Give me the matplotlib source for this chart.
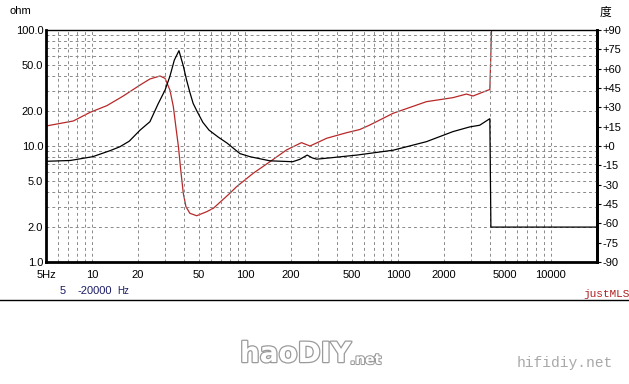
import numpy as np
import matplotlib
matplotlib.use("Agg")
from matplotlib import pyplot as plt
import matplotlib.patheffects as pe

# impedance curve (ohm)
imp_freq = [5, 7.2, 10.1, 13.1, 15.2, 17.5, 20.6, 23.9, 27, 30, 32.3, 34.5, 37.0,
            39.5, 41.5, 43.6, 45.8, 48.5, 53, 58.2, 67, 76.3, 92.6, 107.7, 145.5,
            205, 228, 255, 275, 294, 359, 538, 930, 1535, 2285, 2940, 3420, 3985,
            4050, 20000]
imp_ohm = [7.38, 7.5, 8.09, 9.11, 9.85, 11.0, 13.7, 16.2, 23, 30.3, 40, 55, 66.3,
           49, 37, 29, 23.3, 20.0, 16, 13.7, 11.9, 10.6, 8.6, 8.09, 7.45,
           7.32, 7.67, 8.35, 7.9, 7.7, 7.9, 8.35, 9.2, 10.9, 13.3, 14.6, 15.1, 17.2,
           2.0, 2.0]

# phase curve (degrees)
ph_freq = [5, 7.54, 9.7, 12.5, 16.0, 20.6, 23.9, 27.8, 30.0, 32.3, 34.0, 35.3, 36.7,
           38.0, 39.5, 41.1, 43.6, 48.3, 56.1, 62.1, 79.6, 88, 113, 145.5, 186.5,
           234, 266, 342, 461, 563, 655, 930, 1535, 2285, 2800, 3095, 3890, 3985, 4100]
ph_deg = [15.5, 19.4, 26.1, 31.3, 38.8, 47.3, 52, 54.3, 52.5, 43.4, 30.5, 15, -0.5,
          -18.6, -36.7, -47.1, -52.2, -54.1, -51, -48.3, -36.7, -31.6, -21.2, -12.2, -3.1,
          2.6, 0, 6, 10.3, 12.8, 16.3, 25.4, 34.4, 37.5, 40.3, 38.8, 43.4, 43.8, 95]

x_labels = {5: "5Hz", 10: "10", 20: "20", 50: "50", 100: "100", 200: "200",
            500: "500", 1000: "1000", 2000: "2000", 5000: "5000", 10000: "10000"}
y_labels = {1: "1.0", 2: "2.0", 5: "5.0", 10: "10.0", 20: "20.0", 50: "50.0", 100: "100.0"}
ph_ticks = list(range(-90, 91, 15))

fnt = "Liberation Sans"
fig = plt.figure(figsize=(6.29, 3.84), dpi=100)
ax = fig.add_axes([46 / 629, 1 - 262 / 384, 551 / 629, 232 / 384])
ax.set_xscale("log")
ax.set_yscale("log")
ax.set_xlim(5, 20000)
ax.set_ylim(1, 100)

xgrid = [m * 10 ** d for d in range(0, 5) for m in range(1, 10)]
xgrid = [v for v in xgrid if 5 <= v <= 20000]
ygrid = [m * 10 ** d for d in range(0, 2) for m in range(1, 10)] + [100]
ax.set_xticks(xgrid)
ax.set_xticklabels([x_labels.get(v, "") for v in xgrid], family=fnt, fontsize=8)
ax.set_yticks(ygrid)
ax.set_yticklabels([y_labels.get(v, "") for v in ygrid], family=fnt, fontsize=8)
ax.minorticks_off()
ax.tick_params(axis="x", length=0, pad=6)
ax.tick_params(axis="y", length=0, pad=2)
ax.grid(True, which="major", color="#8a8a8a", linestyle=(0, (3, 3)), linewidth=0.7)
for s in ["left", "bottom", "right"]:
    ax.spines[s].set_linewidth(2)
ax.spines["top"].set_linewidth(1)

ax2 = ax.twinx()
ax2.set_ylim(-90, 90)
ax2.set_yticks(ph_ticks)
ax2.set_yticklabels([("+%d" % v if v >= 0 else "%d" % v) for v in ph_ticks], family=fnt, fontsize=8)
ax2.tick_params(axis="y", length=3, width=0.8, pad=1)
ax2.spines["right"].set_linewidth(2)
for s in ["left", "bottom", "top"]:
    ax2.spines[s].set_visible(False)

ax2.plot(ph_freq, ph_deg, color="#b82828", linewidth=0.9, clip_on=True)
ax.plot(imp_freq, imp_ohm, color="black", linewidth=0.9, zorder=5)
ax.set_zorder(ax2.get_zorder() + 1)
ax.patch.set_visible(False)

# header / footer texts
fig.text(10 / 629, 1 - 11 / 384, "ohm", family=fnt, fontsize=8, va="center")
fig.text(600 / 629, 1 - 12 / 384, "度", family=["Noto Sans CJK SC", "DejaVu Sans"],
         fontsize=8.5, va="center")
navy = "#1c1c64"
fig.text(60 / 629, 1 - 291 / 384, "5", family=fnt, fontsize=8, color=navy, va="center")
fig.text(77 / 629, 1 - 291 / 384, "-20000", family=fnt, fontsize=8, color=navy, va="center")
fig.text(117 / 629, 1 - 291 / 384, "Hz", family=fnt, fontsize=7, color=navy, va="center")
fig.text(583 / 629, 1 - 294 / 384, "justMLS", family="Liberation Mono", fontsize=8,
         color="#b02020", va="center")
fig.add_artist(plt.Line2D([0, 1], [1 - 299.5 / 384] * 2, color="black", linewidth=1,
                          transform=fig.transFigure))

logo = fig.text(240 / 629, 1 - 354 / 384, "haoDIY", family="DejaVu Sans", fontsize=20,
                fontweight="bold", color="white", va="center")
logo.set_path_effects([pe.withStroke(linewidth=1.8, foreground="#9a9a9a")])
net = fig.text(350 / 629, 1 - 360 / 384, ".net", family="DejaVu Sans", fontsize=10,
               fontweight="bold", color="white", va="center")
net.set_path_effects([pe.withStroke(linewidth=1.5, foreground="#9a9a9a")])
fig.text(517 / 629, 1 - 363 / 384, "hifidiy.net", family="Liberation Mono", fontsize=10.5,
         color="#a8a8a8", va="center")

fig.savefig("out.png", dpi=100)
